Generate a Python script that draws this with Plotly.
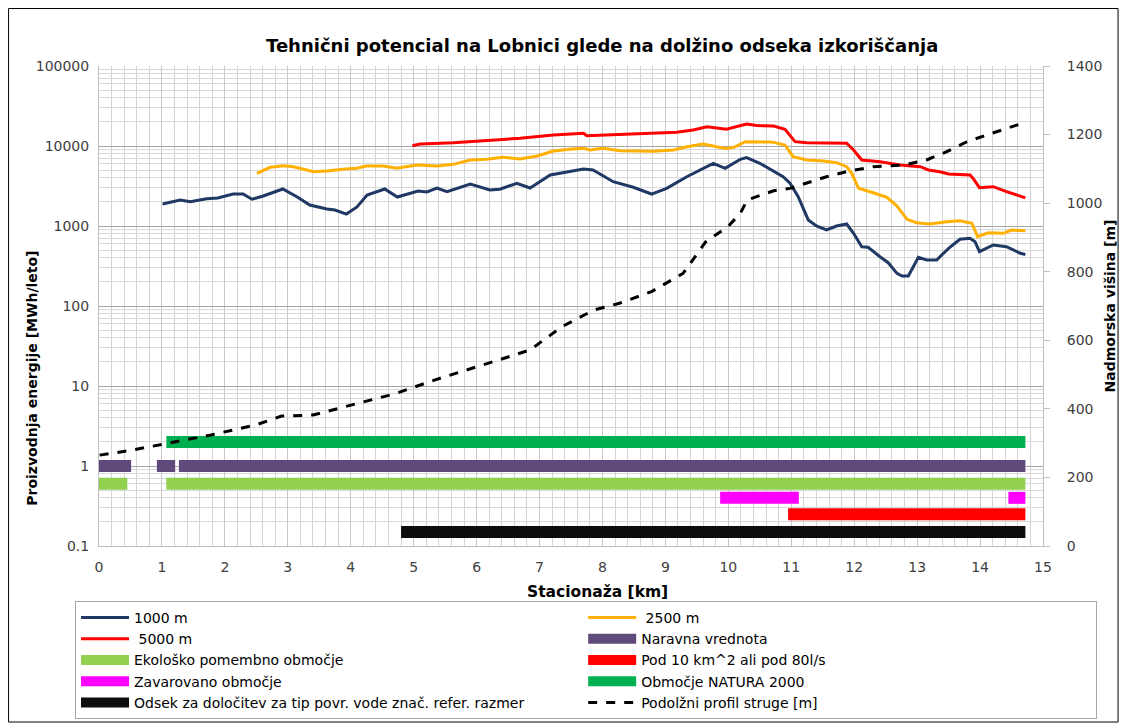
import plotly.graph_objects as go

# --- data ---
km_1000 = [1.01, 1.29, 1.45, 1.71, 1.89, 2.13, 2.29, 2.43, 2.61, 2.92,
           3.15, 3.35, 3.62, 3.75, 3.93, 4.10, 4.26, 4.54, 4.74, 5.07,
           5.21, 5.37, 5.53, 5.90, 6.21, 6.37, 6.64, 6.85, 7.17, 7.48,
           7.70, 7.85, 8.17, 8.49, 8.78, 9.02, 9.34, 9.76, 9.95, 10.19,
           10.29, 10.50, 10.66, 10.87, 10.98, 11.11, 11.27, 11.40, 11.56, 11.72,
           11.88, 11.99, 12.12, 12.22, 12.41, 12.54, 12.68, 12.76, 12.86, 13.02,
           13.15, 13.31, 13.50, 13.68, 13.84, 13.92, 13.99, 14.21, 14.42, 14.64,
           14.72]
e_1000 = [1880, 2110, 2010, 2190, 2240, 2510, 2510, 2160, 2370, 2900,
          2300, 1830, 1630, 1585, 1410, 1730, 2440, 2900, 2300, 2740,
          2660, 2985, 2685, 3350, 2820, 2880, 3420, 2985, 4340, 4775,
          5160, 5010, 3580, 3050, 2510, 2960, 4130, 6080, 5260, 6820,
          7150, 6080, 5110, 4130, 3420, 2325, 1190, 1000, 891, 1000,
          1059, 811, 551, 542, 413, 348, 256, 237, 237, 406,
          376, 376, 526, 682, 702, 636, 477, 579, 551, 456,
          440]

km_2500 = [2.51, 2.72, 2.93, 3.09, 3.41, 3.62, 3.88, 4.09, 4.25, 4.52,
           4.73, 5.05, 5.37, 5.63, 5.90, 6.16, 6.42, 6.69, 6.96, 7.22,
           7.48, 7.70, 7.80, 8.01, 8.28, 8.81, 9.13, 9.34, 9.60, 9.95,
           10.08, 10.27, 10.66, 10.72, 10.90, 11.03, 11.25, 11.51, 11.72, 11.88,
           11.96, 12.07, 12.30, 12.52, 12.68, 12.84, 12.99, 13.20, 13.47, 13.68,
           13.87, 13.96, 14.13, 14.37, 14.50, 14.64, 14.72]
e_2500 = [4550, 5420, 5680, 5510, 4775, 4870, 5110, 5260, 5620, 5620,
          5260, 5790, 5620, 5900, 6680, 6820, 7230, 6880, 7500, 8660,
          9100, 9340, 8910, 9340, 8730, 8590, 8910, 9790, 10600, 9340,
          9560, 11330, 11220, 11100, 10290, 7350, 6680, 6490, 6180, 5510,
          4550, 2960, 2605, 2283, 1778, 1213, 1099, 1059, 1132, 1165,
          1081, 735, 824, 811, 891, 873, 870]

km_5000 = [4.98, 5.10, 5.63, 6.16, 6.69, 7.22, 7.70, 7.75, 8.07, 8.39,
           8.81, 9.18, 9.44, 9.66, 9.97, 10.15, 10.29, 10.45, 10.66, 10.72,
           10.90, 11.06, 11.25, 11.56, 11.88, 11.99, 12.12, 12.41, 12.73, 13.05,
           13.18, 13.36, 13.50, 13.84, 13.89, 13.99, 14.21, 14.42, 14.64, 14.72]
e_5000 = [10090, 10590, 10990, 11650, 12480, 13730, 14420, 13460, 13730, 14130,
          14420, 14820, 15850, 17420, 16190, 17500, 18840, 18000, 17940, 17780,
          16190, 11330, 10990, 10820, 10820, 8910, 6680, 6360, 5790, 5510,
          5010, 4775, 4470, 4340, 3940, 3010, 3100, 2690, 2325, 2250]

km_profil = [0.01, 0.47, 1.02, 1.78, 2.49, 2.90, 3.40, 3.91, 4.72, 5.33,
             5.94, 6.34, 6.85, 7.36, 7.86, 8.27, 8.78, 9.28, 9.64, 9.99,
             10.19, 10.30, 10.45, 10.72, 10.98, 11.25, 11.56, 11.88, 12.30, 12.78,
             13.15, 13.47, 13.79, 14.11, 14.42, 14.64, 14.72]
visina = [265, 278, 297, 324, 353, 379, 382, 406, 445, 484,
          518, 542, 572, 640, 688, 708, 742, 795, 887, 931,
          970, 1009, 1019, 1036, 1043, 1058, 1077, 1092, 1106, 1111,
          1126, 1150, 1179, 1199, 1218, 1233, 1236]

# horizontal band markers: (start km, end km) segments and the level they sit at
natura_seg = [(1.07, 14.72)]
naravna_seg = [(0.0, 0.51), (0.92, 1.21), (1.27, 14.72)]
eko_seg = [(0.0, 0.45), (1.07, 14.72)]
zavarovano_seg = [(9.87, 11.12), (14.45, 14.72)]
pod10_seg = [(10.95, 14.72)]
odsek_seg = [(4.80, 14.72)]
levels = {"natura": 2.0, "naravna": 1.0, "eko": 0.6, "zavarovano": 0.4, "pod10": 0.25, "odsek": 0.15}

y_tickvals = [0.1, 1, 10, 100, 1000, 10000, 100000]
y_ticktext = ["0.1", "1", "10", "100", "1000", "10000", "100000"]

FONT = "'DejaVu Sans', sans-serif"


def seg_xy(segs, level):
    xs, ys = [], []
    for a, b in segs:
        xs += [a, b, None]
        ys += [level, level, None]
    return xs, ys


fig = go.Figure()

bars = [
    ("Naravna vrednota", naravna_seg, levels["naravna"], "#604A7B", 4),
    ("Ekološko pomembno območje", eko_seg, levels["eko"], "#92D050", 5),
    ("Pod 10 km^2 ali pod 80l/s", pod10_seg, levels["pod10"], "#FF0000", 6),
    ("Zavarovano območje", zavarovano_seg, levels["zavarovano"], "#FF00FF", 7),
    ("Območje NATURA 2000", natura_seg, levels["natura"], "#00B050", 8),
    ("Odsek za določitev za tip povr. vode znač. refer. razmer", odsek_seg, levels["odsek"], "#0D0D0D", 9),
]
for name, segs, lvl, col, rank in bars:
    xs, ys = seg_xy(segs, lvl)
    fig.add_trace(go.Scatter(x=xs, y=ys, mode="lines", name=name, legendrank=rank,
                             line=dict(color=col, width=12), connectgaps=False))

fig.add_trace(go.Scatter(x=km_1000, y=e_1000, mode="lines", name="1000 m", legendrank=1,
                         line=dict(color="#1F3864", width=3)))
fig.add_trace(go.Scatter(x=km_2500, y=e_2500, mode="lines", name=" 2500 m", legendrank=2,
                         line=dict(color="#FFB000", width=3)))
fig.add_trace(go.Scatter(x=km_5000, y=e_5000, mode="lines", name=" 5000 m", legendrank=3,
                         line=dict(color="#FF0000", width=3)))
fig.add_trace(go.Scatter(x=km_profil, y=visina, mode="lines", name="Podolžni profil struge [m]",
                         legendrank=10, yaxis="y2",
                         line=dict(color="#000000", width=3, dash="dash")))

minor_log = [m * 10 ** d for d in range(-1, 5) for m in range(2, 10)]

# the page body adds an 8px offset, so the figure is sized 8px smaller
fig.update_layout(
    width=1119, height=717,
    paper_bgcolor="white", plot_bgcolor="white",
    font=dict(family=FONT, size=14, color="#404040"),
    margin=dict(l=91, r=84, t=58, b=179, autoexpand=False),
    title=dict(text="<b>Tehnični potencial na Lobnici glede na dolžino odseka izkoriščanja</b>",
               xref="paper", x=0.533, xanchor="center", y=0.948, yanchor="middle",
               font=dict(size=18, color="#000000")),
    xaxis=dict(range=[0, 15], dtick=1, showgrid=True, gridcolor="#C8C8C8", gridwidth=1,
               minor=dict(dtick=0.2, showgrid=True, gridcolor="#D4D4D4"),
               showline=True, linecolor="#BFBFBF", zeroline=False, ticks="",
               ticklabelstandoff=8, tickfont=dict(size=14, color="#404040")),
    yaxis=dict(type="log", range=[-1, 5], tickvals=y_tickvals, ticktext=y_ticktext,
               showgrid=True, gridcolor="#A6A6A6", gridwidth=1,
               minor=dict(tickvals=minor_log, showgrid=True, gridcolor="#D9D9D9"),
               showline=True, linecolor="#BFBFBF", zeroline=False, ticks="",
               ticklabelstandoff=6, tickfont=dict(size=14, color="#404040")),
    yaxis2=dict(overlaying="y", side="right", range=[0, 1400], dtick=200, showgrid=False,
                showline=True, linecolor="#BFBFBF", zeroline=False, ticks="outside",
                ticklen=6, tickcolor="#BFBFBF", ticklabelstandoff=14,
                tickfont=dict(size=14, color="#404040"),
                title=dict(text="<b>Nadmorska višina [m]</b>", font=dict(size=14, color="#000000"), standoff=3)),
    showlegend=True,
    legend=dict(orientation="h", x=-0.0254, y=-0.1146, xanchor="left", yanchor="top",
                entrywidth=0.49, entrywidthmode="fraction", itemwidth=48,
                bordercolor="#A6A6A6", borderwidth=1, bgcolor="white",
                font=dict(size=14, color="#000000"), tracegroupgap=0),
    annotations=[
        dict(text="<b>Stacionaža [km]</b>", xref="paper", yref="paper", x=0.5286, y=-0.0958,
             xanchor="center", yanchor="middle", showarrow=False,
             font=dict(size=15.5, color="#000000")),
        dict(text="<b>Proizvodnja energije [MWh/leto]</b>", xref="paper", yref="paper",
             x=-0.0712, y=0.35, xanchor="center", yanchor="middle", textangle=-90,
             showarrow=False, font=dict(size=14, color="#000000")),
    ],
    shapes=[dict(type="rect", xref="paper", yref="paper",
                 x0=-0.0958, x1=1.0795, y0=-0.3667, y1=1.1198,
                 line=dict(color="#000000", width=1), layer="below")],
)

fig.write_html("out.html")
